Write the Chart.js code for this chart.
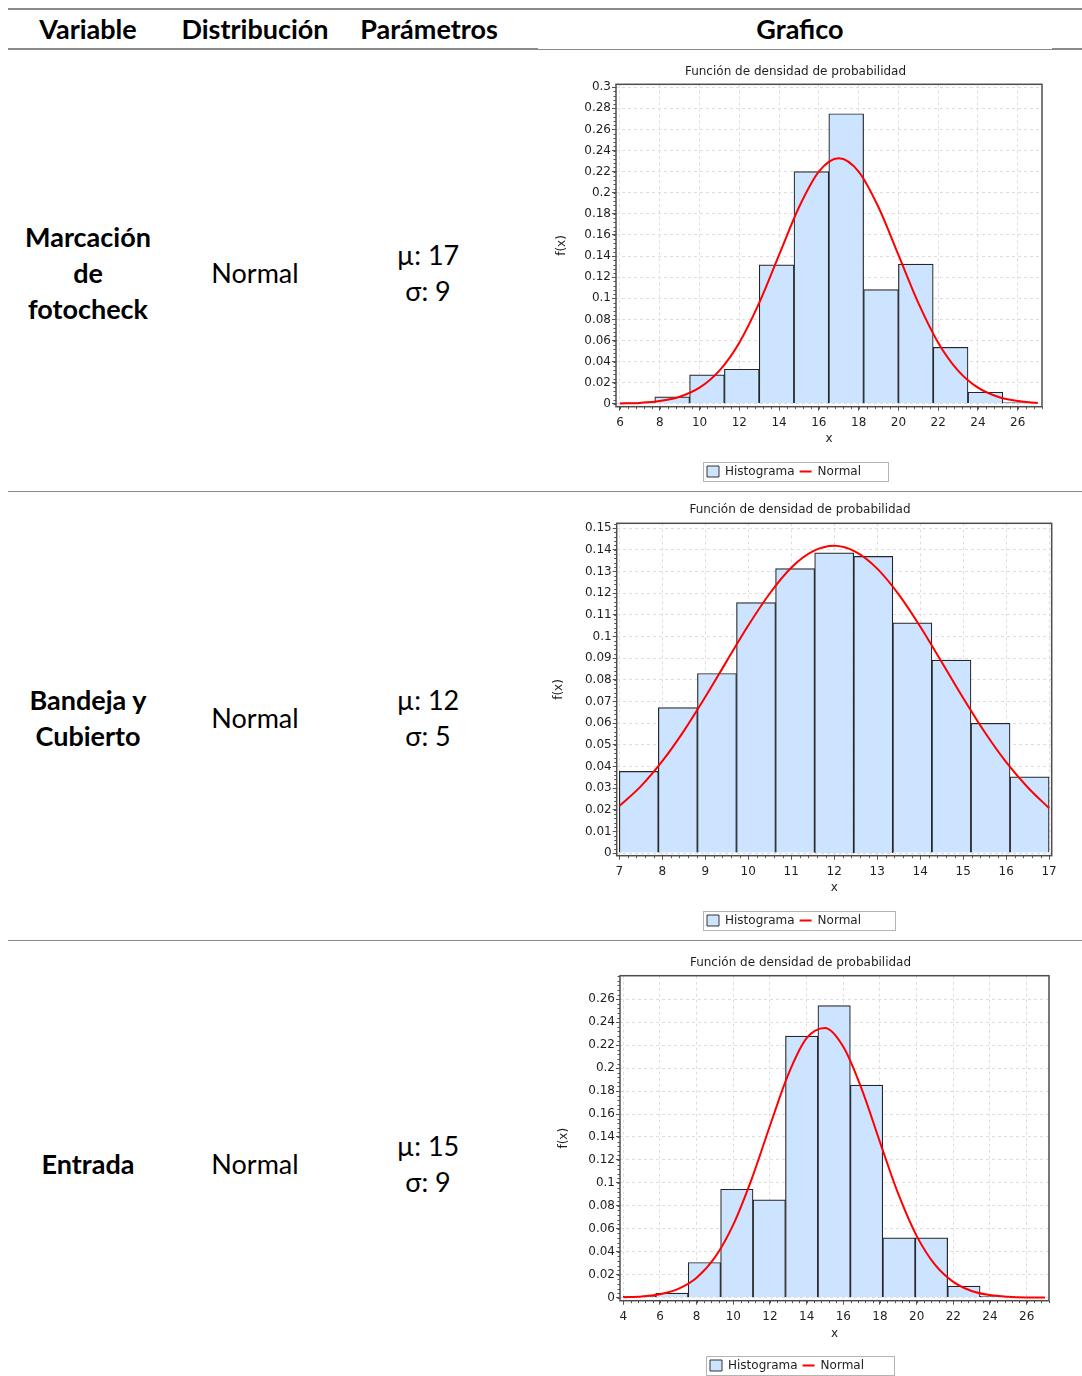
<!DOCTYPE html>
<html>
<head>
<meta charset="utf-8">
<script src="https://cdn.jsdelivr.net/npm/chart.js@4.4.0/dist/chart.umd.min.js"></script>
<style>
html, body { margin: 0; padding: 0; background: #fff; }
body { width: 1082px; height: 1376px; position: relative; overflow: hidden; font-family: Lato, "Noto Sans", sans-serif; color: #000; }
.t { position: absolute; transform: translate(-50%, -50%); white-space: nowrap; font-size: 27px; line-height: 1; }
.b { font-weight: bold; }
.rule { position: absolute; background: #8a8a8a; }
canvas { position: absolute; }
</style>
</head>
<body>

<div class="rule" style="left:8px;top:8px;width:1074px;height:2px"></div>
<div class="rule" style="left:8px;top:48px;width:530px;height:2px"></div>
<div class="rule" style="left:538px;top:49px;width:514px;height:1px"></div>
<div class="rule" style="left:1052px;top:48px;width:30px;height:2px"></div>
<div class="rule" style="left:8px;top:491px;width:1074px;height:1px"></div>
<div class="rule" style="left:8px;top:940px;width:1074px;height:1px"></div>

<div class="t b" style="left:88px;top:28px">Variable</div>
<div class="t b" style="left:255px;top:28px">Distribución</div>
<div class="t b" style="left:429px;top:28px">Parámetros</div>
<div class="t b" style="left:800px;top:28px">Grafico</div>

<div class="t b" style="left:88px;top:236px">Marcación</div>
<div class="t b" style="left:88px;top:272px">de</div>
<div class="t b" style="left:88px;top:308px">fotocheck</div>
<div class="t" style="left:255px;top:272px">Normal</div>
<div class="t" style="left:428px;top:254px">µ: 17</div>
<div class="t" style="left:428px;top:290px">σ: 9</div>

<div class="t b" style="left:88px;top:699px">Bandeja y</div>
<div class="t b" style="left:88px;top:735px">Cubierto</div>
<div class="t" style="left:255px;top:717px">Normal</div>
<div class="t" style="left:428px;top:699px">µ: 12</div>
<div class="t" style="left:428px;top:735px">σ: 5</div>

<div class="t b" style="left:88px;top:1163px">Entrada</div>
<div class="t" style="left:255px;top:1163px">Normal</div>
<div class="t" style="left:428px;top:1145px">µ: 15</div>
<div class="t" style="left:428px;top:1181px">σ: 9</div>

<canvas id="c1"></canvas>
<canvas id="c2"></canvas>
<canvas id="c3"></canvas>

<script>
// --- Marcación de fotocheck ---
const binEdges1 = [6, 7.75, 9.5, 11.25, 13, 14.75, 16.5, 18.25, 20, 21.75, 23.5, 25.25, 27];
const density1 = [0.001, 0.0066, 0.0274, 0.0328, 0.1318, 0.22, 0.2749, 0.1082, 0.1324, 0.0536, 0.011, 0.0013];
const normalX1 = [6, 7, 8, 9, 10, 11, 12, 13, 14, 15, 16, 17, 18, 19, 20, 21, 22, 23, 24, 25, 26, 27];
const normalY1 = [0.0003, 0.0009, 0.0026, 0.0067, 0.0153, 0.0315, 0.058, 0.0957, 0.1411, 0.1863, 0.2201, 0.2327,
                  0.2201, 0.1863, 0.1411, 0.0957, 0.058, 0.0315, 0.0153, 0.0067, 0.0026, 0.0009];
const xTicks1 = [6, 8, 10, 12, 14, 16, 18, 20, 22, 24, 26];
const yTicks1 = [0, 0.02, 0.04, 0.06, 0.08, 0.1, 0.12, 0.14, 0.16, 0.18, 0.2, 0.22, 0.24, 0.26, 0.28, 0.3];

// --- Bandeja y Cubierto ---
const binEdges2 = [7, 7.909, 8.818, 9.727, 10.636, 11.545, 12.455, 13.364, 14.273, 15.182, 16.091, 17];
const density2 = [0.0377, 0.0671, 0.0829, 0.1156, 0.1313, 0.1386, 0.1369, 0.1063, 0.0891, 0.0599, 0.0352];
const normalX2 = [7, 7.5, 8, 8.5, 9, 9.5, 10, 10.5, 11, 11.5, 12, 12.5, 13, 13.5, 14, 14.5, 15, 15.5, 16, 16.5, 17];
const normalY2 = [0.0217, 0.0308, 0.0424, 0.0563, 0.072, 0.0886, 0.105, 0.1198, 0.1317, 0.1392, 0.1418,
                  0.139, 0.1313, 0.1194, 0.1046, 0.0882, 0.0716, 0.0559, 0.042, 0.0304, 0.0207];
const xTicks2 = [7, 8, 9, 10, 11, 12, 13, 14, 15, 16, 17];
const yTicks2 = [0, 0.01, 0.02, 0.03, 0.04, 0.05, 0.06, 0.07, 0.08, 0.09, 0.1, 0.11, 0.12, 0.13, 0.14, 0.15];

// --- Entrada ---
const binEdges3 = [4, 5.769, 7.538, 9.308, 11.077, 12.846, 14.615, 16.385, 18.154, 19.923, 21.692, 23.462, 25.231, 27];
const density3 = [0.0012, 0.0041, 0.0307, 0.0945, 0.0852, 0.2278, 0.2545, 0.1852, 0.0522, 0.0522, 0.0101, 0.0012, 0.0003];
const normalX3 = [4, 5, 6, 7, 8, 9, 10, 11, 12, 13, 14, 15, 16, 17, 18, 19, 20, 21, 22, 23, 24, 25, 26, 27];
const normalY3 = [0.0003, 0.0011, 0.003, 0.0077, 0.0174, 0.0352, 0.0637, 0.1033, 0.1498, 0.1946, 0.2261, 0.235,
                  0.2186, 0.182, 0.1356, 0.0904, 0.0539, 0.0288, 0.0138, 0.0059, 0.0023, 0.0008, 0.0002, 0.0001];
const xTicks3 = [4, 6, 8, 10, 12, 14, 16, 18, 20, 22, 24, 26];
const yTicks3 = [0, 0.02, 0.04, 0.06, 0.08, 0.1, 0.12, 0.14, 0.16, 0.18, 0.2, 0.22, 0.24, 0.26];

const FONT = 'DejaVu Sans';
const TXT = '#1f1f1f';
const BAR_FILL = 'rgb(204, 228, 255)';

// page positions of each chart's pieces
const layout1 = { id: 'c1', titleCX: 795.5, titleCY: 70, plotL: 616, plotR: 1042, plotT: 84.3, plotB: 406.7,
  fxX: 560, xLabY: 438, legCY: 471.5, legLeft: 707, legBoxW: 185,
  xMin: 5.8, xMax: 27.22, yMin: -0.0027, yMax: 0.3028, xMinor: 0.4, yMinor: 0.004 };
const layout2 = { id: 'c2', titleCX: 799.5, titleCY: 508, plotL: 616.7, plotR: 1051.7, plotT: 523.3, plotB: 855.7,
  fxX: 557, xLabY: 887, legCY: 920.5, legLeft: 707, legBoxW: 192,
  xMin: 6.94, xMax: 17.06, yMin: -0.0012, yMax: 0.1522, xMinor: 0.2, yMinor: 0.002 };
const layout3 = { id: 'c3', titleCX: 800.5, titleCY: 961, plotL: 620, plotR: 1049, plotT: 975.7, plotB: 1300.7,
  fxX: 562, xLabY: 1333, legCY: 1365.5, legLeft: 710, legBoxW: 188,
  xMin: 3.82, xMax: 27.22, yMin: -0.0026, yMax: 0.2805, xMinor: 0.4, yMinor: 0.004 };

const decorPlugin = {
  id: 'decor',
  beforeDraw(chart, args, o) {
    const lg = chart.legend;
    if (lg && lg.legendHitBoxes && lg.legendHitBoxes.length) {
      const dx = o.legLeft - lg.legendHitBoxes[0].left;
      if (Math.abs(dx) > 0.01) {
        lg.left += dx;
        lg.right += dx;
        lg.legendHitBoxes.forEach(h => { h.left += dx; });
      }
    }
  },
  afterDraw(chart, args, o) {
    const { ctx, chartArea: a, scales: { x, y } } = chart;
    ctx.save();
    ctx.strokeStyle = '#555';
    ctx.lineWidth = 1;
    ctx.beginPath();
    for (let k = Math.ceil(x.min / o.xMinor); k * o.xMinor <= x.max; k++) {
      const px = Math.round(x.getPixelForValue(k * o.xMinor)) + 0.5;
      ctx.moveTo(px, a.bottom);
      ctx.lineTo(px, a.bottom + 2.5);
    }
    for (let k = Math.ceil(y.min / o.yMinor); k * o.yMinor <= y.max; k++) {
      const py = Math.round(y.getPixelForValue(k * o.yMinor)) + 0.5;
      ctx.moveTo(a.left - 2.5, py);
      ctx.lineTo(a.left, py);
    }
    ctx.stroke();
    // plot frame
    ctx.strokeStyle = '#4d4d4d';
    ctx.lineWidth = 1.5;
    ctx.strokeRect(a.left, a.top, a.right - a.left, a.bottom - a.top);
    // legend frame
    const hb = chart.legend.legendHitBoxes;
    if (hb && hb.length) {
      const cy = hb[0].top + 6;
      ctx.strokeStyle = '#b4b4b4';
      ctx.lineWidth = 1;
      ctx.strokeRect(Math.round(hb[0].left - 4) + 0.5, Math.round(cy - 9.5) + 0.5, o.legBoxW, 19);
    }
    ctx.restore();
  }
};

function buildChart(lay, edges, dens, nx, ny, xTicks, yTicks) {
  const canvas = document.getElementById(lay.id);
  const W = Math.round(2 * (lay.plotR + 10 - lay.titleCX));
  const left = Math.round(lay.titleCX - W / 2);
  const padSide = left + W - lay.plotR;
  const yAxisW = lay.plotL - left - padSide;
  const top = Math.round(lay.titleCY - 13.2);
  const titlePadTop = lay.titleCY + 1.5 - top - 7.2;
  const titlePadBottom = lay.plotT - top - titlePadTop - 14.4;
  const legendTop = lay.legCY - 11;
  const xAxisH = legendTop - lay.plotB;
  const xTitlePad = xAxisH - (lay.xLabY - lay.plotB) - 8.2;
  const H = Math.ceil(legendTop + 27 + 2 - top);
  const padBottom = top + H - (legendTop + 27);

  canvas.width = W;
  canvas.height = H;
  canvas.style.left = left + 'px';
  canvas.style.top = top + 'px';
  canvas.style.width = W + 'px';
  canvas.style.height = H + 'px';

  const hist = dens.map((d, i) => ({ x: (edges[i] + edges[i + 1]) / 2, y: d }));
  const curve = nx.map((v, i) => ({ x: v, y: ny[i] }));

  return new Chart(canvas, {
    type: 'bar',
    data: {
      datasets: [
        {
          type: 'bar', label: 'Histograma', data: hist,
          backgroundColor: BAR_FILL, borderColor: '#262626', borderWidth: 1.2,
          barPercentage: 1, categoryPercentage: 1, order: 1
        },
        {
          type: 'line', label: 'Normal', data: curve,
          borderColor: '#ff0000', backgroundColor: '#ff0000', borderWidth: 2,
          pointRadius: 0, cubicInterpolationMode: 'monotone', fill: false, order: 0
        }
      ]
    },
    plugins: [decorPlugin],
    options: {
      responsive: false,
      animation: false,
      events: [],
      layout: { autoPadding: false, padding: { left: padSide, right: padSide, top: 0, bottom: padBottom } },
      plugins: {
        decor: { legLeft: lay.legLeft - left, legBoxW: lay.legBoxW, xMinor: lay.xMinor, yMinor: lay.yMinor },
        tooltip: { enabled: false },
        title: {
          display: true, text: 'Función de densidad de probabilidad', color: TXT,
          font: { family: FONT, size: 12, weight: 'normal' },
          padding: { top: titlePadTop, bottom: titlePadBottom }
        },
        legend: {
          position: 'bottom',
          labels: {
            usePointStyle: true, pointStyleWidth: 12, boxHeight: 11, padding: 5,
            color: TXT, font: { family: FONT, size: 12 },
            generateLabels(chart) {
              const items = Chart.defaults.plugins.legend.labels.generateLabels(chart);
              items.sort((p, q) => p.datasetIndex - q.datasetIndex);
              items.forEach(it => {
                if (chart.data.datasets[it.datasetIndex].type === 'line') {
                  it.pointStyle = 'line'; it.strokeStyle = '#ff0000'; it.lineWidth = 2;
                } else {
                  it.pointStyle = 'rect'; it.fillStyle = BAR_FILL; it.strokeStyle = '#333'; it.lineWidth = 1;
                }
              });
              return items;
            }
          }
        }
      },
      scales: {
        x: {
          type: 'linear', offset: false, min: lay.xMin, max: lay.xMax,
          afterBuildTicks(axis) { axis.ticks = xTicks.map(v => ({ value: v })); },
          afterFit(axis) { axis.height = xAxisH; },
          ticks: { autoSkip: false, maxRotation: 0, padding: 5, color: TXT,
            font: { family: FONT, size: 12 }, callback: v => String(v) },
          grid: { offset: false, color: '#dedede', lineWidth: 1, tickLength: 4, tickColor: '#555', tickWidth: 1 },
          border: { display: false, dash: [3, 3] },
          title: { display: true, text: 'x', color: TXT, font: { family: FONT, size: 12 },
            padding: { top: 0, bottom: xTitlePad } }
        },
        y: {
          type: 'linear', min: lay.yMin, max: lay.yMax,
          afterBuildTicks(axis) { axis.ticks = yTicks.map(v => ({ value: v })); },
          afterFit(axis) { axis.width = yAxisW; },
          ticks: { autoSkip: false, padding: 1, color: TXT,
            font: { family: FONT, size: 12 }, callback: v => String(v) },
          grid: { color: '#dedede', lineWidth: 1, tickLength: 4, tickColor: '#555', tickWidth: 1 },
          border: { display: false, dash: [3, 3] },
          title: { display: true, text: 'f(x)', color: TXT, font: { family: FONT, size: 12 },
            padding: { top: lay.fxX + 1.5 - left - padSide - 7.2, bottom: 0 } }
        }
      }
    }
  });
}

buildChart(layout1, binEdges1, density1, normalX1, normalY1, xTicks1, yTicks1);
buildChart(layout2, binEdges2, density2, normalX2, normalY2, xTicks2, yTicks2);
buildChart(layout3, binEdges3, density3, normalX3, normalY3, xTicks3, yTicks3);
</script>
</body>
</html>
